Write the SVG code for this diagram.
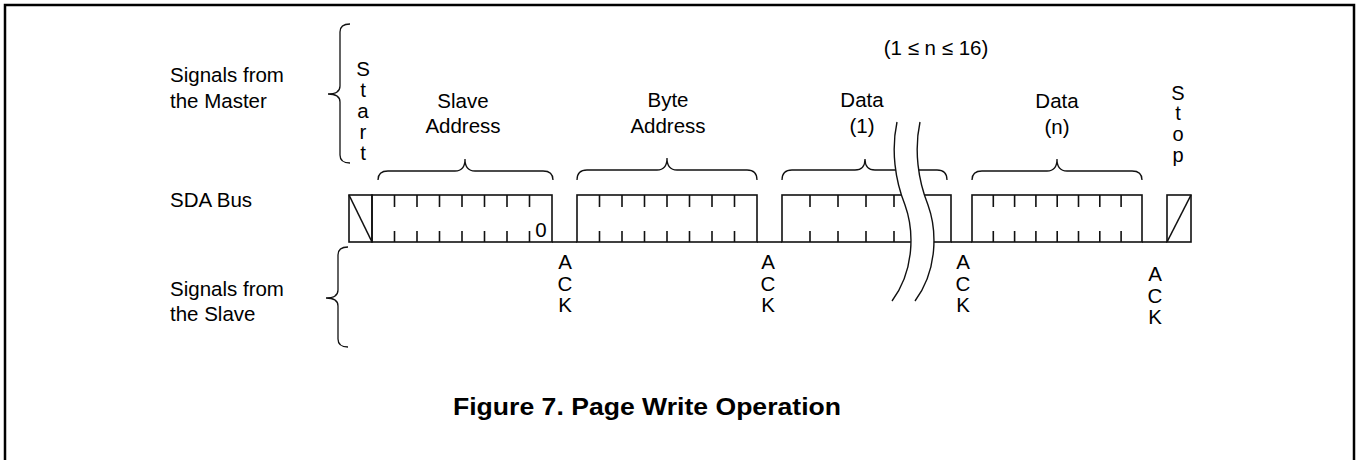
<svg xmlns="http://www.w3.org/2000/svg" width="1356" height="460" viewBox="0 0 1356 460">
<style>
text{font-family:"Liberation Sans",Arial,Helvetica,sans-serif;font-size:20.5px;fill:#000}
.c{text-anchor:middle}
.v{font-size:20px}
.title{font-weight:bold;font-size:24px}
.box{fill:none;stroke:#111;stroke-width:1.6}
.tick{stroke:#111;stroke-width:1.6;stroke-dasharray:12 24 12}
.brace{fill:none;stroke:#111;stroke-width:1.3}
.bus{stroke:#111;stroke-width:1.6}
.brk{fill:#fff;stroke:none}
.brkl{fill:none;stroke:#111;stroke-width:1.4}
</style>
<rect width="1356" height="460" fill="#fff"/>
<path d="M5,462 V5 H1354 V462" fill="none" stroke="#000" stroke-width="2.5"/>

<g id="labels-left">
<text x="170" y="82">Signals from</text>
<text x="170" y="108">the Master</text>
<text x="170" y="207">SDA Bus</text>
<text x="170" y="296">Signals from</text>
<text x="170" y="321">the Slave</text>
</g>

<g id="brace-master">
<path class="brace" d="M350,24 Q340,24 340,32 L340,86 Q340,94 328,94 Q340,94 340,102 L340,155 Q340,163 350,163"/>
</g>
<g id="brace-slave">
<path class="brace" d="M348,247 Q338,247 338,255 L338,290 Q338,298 326,298 Q338,298 338,306 L338,339 Q338,347 348,347"/>
</g>

<g id="start">
<text class="c"><tspan x="363" y="76">S</tspan><tspan x="363" y="97">t</tspan><tspan x="363" y="118">a</tspan><tspan x="363" y="139">r</tspan><tspan x="363" y="160">t</tspan></text>
<rect class="box" x="349" y="195" width="23" height="47"/>
<line class="box" x1="349" y1="195" x2="372" y2="242"/>
</g>

<g id="slave-address">
<text class="c" x="463" y="108">Slave</text>
<text class="c" x="463" y="133">Address</text>
<path class="brace" d="M378,180 Q378,171 388,171 L455,171 Q465,171 465,159 Q465,171 475,171 L543,171 Q553,171 553,180"/>
<rect class="box" x="372" y="195" width="180" height="47"/>
<path class="tick" d="M394.5,195V242M417,195V242M439.5,195V242M462,195V242M484.5,195V242M507,195V242M529.5,195V242"/>
<text class="c" x="541" y="237">0</text>
</g>

<g id="byte-address">
<text class="c" x="668" y="107">Byte</text>
<text class="c" x="668" y="133">Address</text>
<path class="brace" d="M577,180 Q577,170 587,170 L657,170 Q667,170 667,158 Q667,170 677,170 L747,170 Q757,170 757,180"/>
<rect class="box" x="577" y="195" width="180" height="47"/>
<path class="tick" d="M599.5,195V242M622,195V242M644.5,195V242M667,195V242M689.5,195V242M712,195V242M734.5,195V242"/>
</g>

<g id="data-1">
<text class="c" x="862" y="107">Data</text>
<text class="c" x="862" y="133">(1)</text>
<path class="brace" d="M782,180 Q782,170 792,170 L855,170 Q865,170 865,159 Q865,170 875,170 L937,170 Q947,170 947,180"/>
<rect class="box" x="782" y="195" width="169" height="47"/>
<path class="tick" d="M810,195V242M838,195V242M866,195V242M894,195V242"/>
</g>

<g id="n-range">
<text class="c" x="936" y="55">(1 ≤ n ≤ 16)</text>
</g>

<g id="data-n">
<text class="c" x="1057" y="108">Data</text>
<text class="c" x="1057" y="134">(n)</text>
<path class="brace" d="M972,180 Q972,171 982,171 L1047,171 Q1057,171 1057,159 Q1057,171 1067,171 L1132,171 Q1142,171 1142,180"/>
<rect class="box" x="972" y="195" width="170" height="47"/>
<path class="tick" d="M993.3,195V242M1014.6,195V242M1035.9,195V242M1057.2,195V242M1078.5,195V242M1099.8,195V242M1121.1,195V242"/>
</g>

<g id="stop">
<text class="c v"><tspan x="1178" y="99.5">S</tspan><tspan x="1178" y="120.2">t</tspan><tspan x="1178" y="140.9">o</tspan><tspan x="1178" y="161.6">p</tspan></text>
<rect class="box" x="1167" y="195" width="24" height="47"/>
<line class="box" x1="1167" y1="242" x2="1191" y2="195"/>
</g>

<g id="connectors">
<line class="bus" x1="552" y1="242" x2="577" y2="242"/>
<line class="bus" x1="757" y1="242" x2="782" y2="242"/>
<line class="bus" x1="951" y1="242" x2="972" y2="242"/>
<line class="bus" x1="1142" y1="242" x2="1167" y2="242"/>
</g>

<g id="break">
<path class="brk" d="M897,122 C891,150 895,180 905,205 C914,230 915,270 892,301 L915,301 C938,270 937,230 928,205 C918,180 914,150 920,122 Z"/>
<path class="brkl" d="M897,122 C891,150 895,180 905,205 C914,230 915,270 892,301"/>
<path class="brkl" d="M920,122 C914,150 918,180 928,205 C937,230 938,270 915,301"/>
</g>

<g id="ack-1">
<text class="c"><tspan x="565" y="269">A</tspan><tspan x="565" y="291">C</tspan><tspan x="565" y="312">K</tspan></text>
</g>
<g id="ack-2">
<text class="c"><tspan x="768" y="269">A</tspan><tspan x="768" y="291">C</tspan><tspan x="768" y="312">K</tspan></text>
</g>
<g id="ack-3">
<text class="c"><tspan x="963" y="269">A</tspan><tspan x="963" y="291">C</tspan><tspan x="963" y="312">K</tspan></text>
</g>
<g id="ack-4">
<text class="c"><tspan x="1155" y="281">A</tspan><tspan x="1155" y="303">C</tspan><tspan x="1155" y="324">K</tspan></text>
</g>

<g id="caption">
<text class="title" x="453" y="415" textLength="388" lengthAdjust="spacingAndGlyphs">Figure 7. Page Write Operation</text>
</g>
</svg>
